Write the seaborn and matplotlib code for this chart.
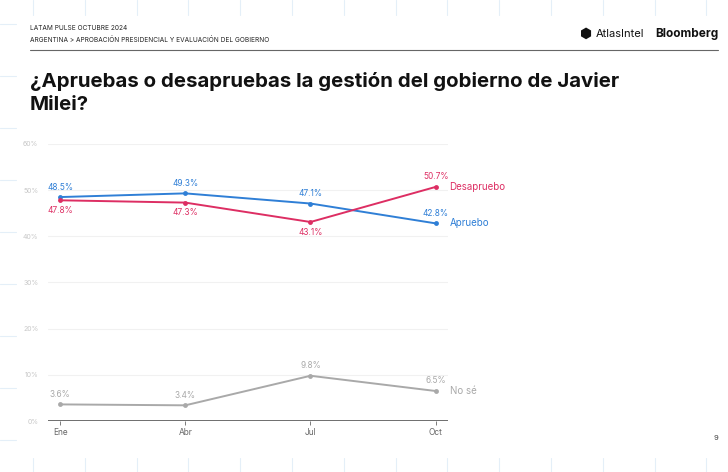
import matplotlib
matplotlib.use("Agg")
import matplotlib.pyplot as plt
import seaborn as sns
import pandas as pd

# ─── Datos ───────────────────────────────────────────────────────────────────
MESES      = ["Ene", "Abr", "Jul", "Oct"]
APRUEBO    = [48.5, 49.3, 47.1, 42.8]
DESAPRUEBO = [47.8, 47.3, 43.1, 50.7]
NO_SE      = [3.6, 3.4, 9.8, 6.5]
Y_TICKS    = [0, 10, 20, 30, 40, 50, 60]

AZUL  = "#2f7fd6"
ROSA  = "#dd2e63"
GRIS  = "#a9a9a9"
DECO  = "#e4eff8"
FONT  = ["Inter", "DejaVu Sans"]

sns.set_theme(style="white")
plt.rcParams["font.family"] = FONT

rows = []
for serie, vals in [("Apruebo", APRUEBO), ("Desapruebo", DESAPRUEBO), ("No sé", NO_SE)]:
    for i, v in enumerate(vals):
        rows.append({"x": i, "mes": MESES[i], "serie": serie, "valor": v})
df = pd.DataFrame(rows)
palette = {"Apruebo": AZUL, "Desapruebo": ROSA, "No sé": GRIS}

W, H = 728, 472
fig = plt.figure(figsize=(7.28, 4.72), dpi=100, facecolor="white")

# marcas decorativas tenues del fondo de la diapositiva
for k in range(14):
    x = (33 + 51.8 * k) / W
    fig.add_artist(plt.Line2D([x, x], [1, 1 - 15 / H], color=DECO, linewidth=0.8))
    fig.add_artist(plt.Line2D([x, x], [0, 14 / H], color=DECO, linewidth=0.8))
for k in range(9):
    y = 1 - (24 + 52 * k) / H
    fig.add_artist(plt.Line2D([0, 16 / W], [y, y], color=DECO, linewidth=0.8))

ax = fig.add_axes([0.066, 0.108, 0.549, 0.587])
ax.patch.set_alpha(0)

sns.lineplot(data=df, x="x", y="valor", hue="serie", palette=palette,
             marker="o", markersize=3.5, markeredgewidth=0, linewidth=1.4,
             legend=False, ax=ax)

ax.set_xlim(-0.096, 3.096)
ax.set_ylim(0, 60)
ax.set_yticks(Y_TICKS)
ax.set_yticklabels([f"{t}%" for t in Y_TICKS])
ax.set_xticks(range(len(MESES)))
ax.set_xticklabels(MESES)
ax.set_xlabel("")
ax.set_ylabel("")
for t in Y_TICKS[1:]:
    ax.axhline(t, color="#f1f1f1", linewidth=0.8, zorder=0)
ax.axhline(0, color="#555555", linewidth=1.2, zorder=1)
for s in ax.spines.values():
    s.set_visible(False)
ax.tick_params(axis="y", colors="#c8c8c8", labelsize=5, length=0, pad=7)
ax.tick_params(axis="x", colors="#666666", labelsize=6, length=3, width=0.6,
               bottom=True, pad=2)

# ─── Etiquetas de datos ──────────────────────────────────────────────────────
for i, v in enumerate(APRUEBO):
    ax.annotate(f"{v}%", (i, v), xytext=(0, 4), textcoords="offset points",
                ha="center", va="bottom", fontsize=6, color=AZUL)
for i, v in enumerate(DESAPRUEBO):
    above = v > APRUEBO[i]
    ax.annotate(f"{v}%", (i, v), xytext=(0, 4 if above else -4),
                textcoords="offset points", ha="center",
                va="bottom" if above else "top", fontsize=6, color=ROSA)
for i, v in enumerate(NO_SE):
    ax.annotate(f"{v}%", (i, v), xytext=(0, 4), textcoords="offset points",
                ha="center", va="bottom", fontsize=6, color=GRIS)

last = len(MESES) - 1
ax.annotate("Desapruebo", (last, DESAPRUEBO[-1]), xytext=(10, 0),
            textcoords="offset points", va="center", fontsize=7, color=ROSA)
ax.annotate("Apruebo", (last, APRUEBO[-1]), xytext=(10, 0),
            textcoords="offset points", va="center", fontsize=7, color=AZUL)
ax.annotate("No sé", (last, NO_SE[-1]), xytext=(10, 0),
            textcoords="offset points", va="center", fontsize=7, color=GRIS)

# ─── Encabezado ──────────────────────────────────────────────────────────────
fig.text(30 / W, 1 - 28 / H, "LATAM PULSE OCTUBRE 2024", fontsize=4.7,
         color="#222222", va="center")
fig.text(30 / W, 1 - 40 / H,
         "ARGENTINA > APROBACIÓN PRESIDENCIAL Y EVALUACIÓN DEL GOBIERNO",
         fontsize=4.7, color="#222222", va="center")
fig.add_artist(plt.Line2D([30 / W, 718 / W], [1 - 50 / H] * 2,
                          color="#666666", linewidth=0.8))
fig.text(718 / W, 1 - 34 / H, "Bloomberg", fontsize=8.5, fontweight="bold",
         color="#111111", ha="right", va="center")
fig.text(596 / W, 1 - 34 / H, "AtlasIntel", fontsize=8, color="#111111",
         va="center")
fig.text(586 / W, 1 - 34 / H, "⬢", fontsize=10, color="#111111",
         ha="center", va="center")

fig.text(30 / W, 1 - 93 / H,
         "¿Apruebas o desapruebas la gestión del gobierno de Javier\nMilei?",
         fontsize=14.7, fontweight="bold", color="#111111", va="center",
         linespacing=1.3)

fig.text(716 / W, 1 - 438 / H, "9", fontsize=5.5, color="#444444",
         ha="center", va="center")

fig.savefig("out.png", dpi=100, facecolor="white")
